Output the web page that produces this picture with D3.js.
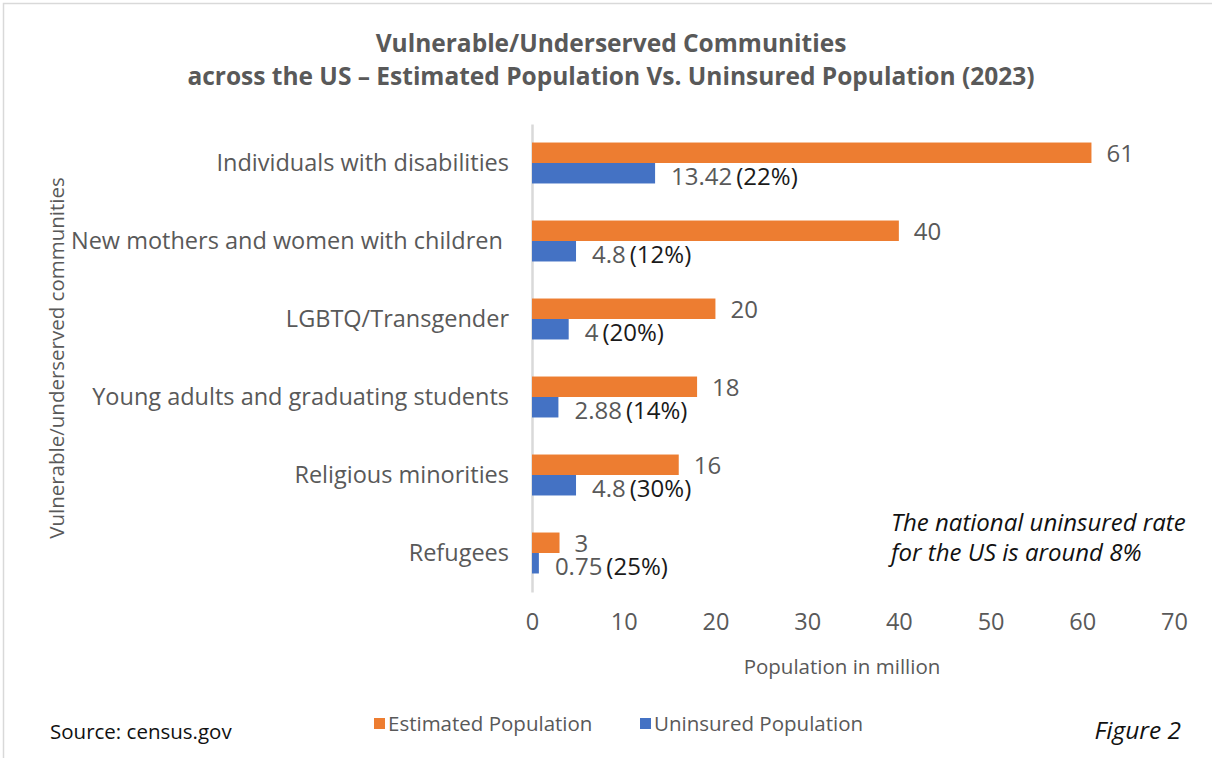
<!DOCTYPE html>
<html>
<head>
<meta charset="utf-8">
<script src="https://cdn.jsdelivr.net/npm/d3@7"></script>
<style>
  html, body { margin: 0; padding: 0; background: #ffffff; }
  svg { display: block; font-family: "Open Sans", "Noto Sans", sans-serif; }
  .cat text { white-space: pre; }
</style>
</head>
<body>
<svg id="chart" width="1212" height="758"></svg>
<script>
// Communities, top to bottom
const categories = [
  "Individuals with disabilities",
  "New mothers and women with children ",
  "LGBTQ/Transgender",
  "Young adults and graduating students",
  "Religious minorities",
  "Refugees"
];
// Population in million
const estimated = [61, 40, 20, 18, 16, 3];
const uninsured = [13.42, 4.8, 4, 2.88, 4.8, 0.75];
// Share of each community that is uninsured
const uninsuredShare = ["22%", "12%", "20%", "14%", "30%", "25%"];
const xTicks = [0, 10, 20, 30, 40, 50, 60, 70];

const seriesNames = ["Estimated Population", "Uninsured Population"];
const colors = ["#ED7D31", "#4472C4"];

const FONT = "'Open Sans', 'Noto Sans', sans-serif";
const svg = d3.select("#chart");
const W = 1212, H = 758;

// frame
svg.append("rect").attr("x", 3.5).attr("y", 3.5).attr("width", W + 10).attr("height", H + 10)
  .attr("fill", "none").attr("stroke", "#d9d9d9").attr("stroke-width", 1.5);

const plot = { left: 532, right: 1174, top: 124, bottom: 592 };

const x = d3.scaleLinear().domain([0, 70]).range([plot.left, plot.right]);
const y = d3.scaleBand().domain(categories).range([plot.top, plot.bottom]).paddingInner(0.475).paddingOuter(0.2375);
const barH = y.bandwidth() / 2;

// title
const title = svg.append("text").attr("text-anchor", "middle").attr("fill", "#595959")
  .attr("font-weight", "bold").attr("font-size", 24.5);
title.append("tspan").attr("x", 611).attr("y", 52).text("Vulnerable/Underserved Communities");
title.append("tspan").attr("x", 611).attr("y", 85).text("across the US \u2013 Estimated Population Vs. Uninsured Population (2023)");

// x axis ticks (no line)
const xAxis = svg.append("g").attr("transform", `translate(0,${plot.bottom})`)
  .call(d3.axisBottom(x).tickValues(xTicks).tickSize(0).tickPadding(21).tickFormat(d3.format("d")));
xAxis.select(".domain").remove();
xAxis.selectAll("text").attr("font-size", 23.5).attr("fill", "#595959").attr("font-family", FONT);

// y axis: vertical line + category labels
const yAxis = svg.append("g").attr("class", "cat").attr("transform", `translate(${plot.left},0)`)
  .call(d3.axisLeft(y).tickSize(0).tickPadding(23));
yAxis.select(".domain").attr("stroke", "#d9d9d9").attr("stroke-width", 2.5);
yAxis.selectAll("text").attr("font-size", 23.5).attr("fill", "#595959").attr("font-family", FONT);

// bars
const rows = categories.map((c, i) => ({ c, est: estimated[i], un: uninsured[i], share: uninsuredShare[i] }));

svg.append("g").selectAll("rect").data(rows).join("rect")
  .attr("x", x(0)).attr("y", d => y(d.c))
  .attr("width", d => x(d.est) - x(0)).attr("height", barH)
  .attr("fill", colors[0]);

svg.append("g").selectAll("rect").data(rows).join("rect")
  .attr("x", x(0)).attr("y", d => y(d.c) + barH)
  .attr("width", d => x(d.un) - x(0)).attr("height", barH)
  .attr("fill", colors[1]);

// value labels
svg.append("g").selectAll("text").data(rows).join("text")
  .attr("x", d => x(d.est) + 15).attr("y", d => y(d.c) + barH / 2)
  .attr("dominant-baseline", "central").attr("font-size", 24).attr("fill", "#595959")
  .text(d => d.est);

const unLabels = svg.append("g").selectAll("text").data(rows).join("text")
  .attr("x", d => x(d.un) + 16).attr("y", d => y(d.c) + barH * 1.5 + 2)
  .attr("dominant-baseline", "central").attr("font-size", 24);
unLabels.append("tspan").attr("fill", "#595959").text(d => d.un);
unLabels.append("tspan").attr("fill", "#1a1a1a").attr("dx", 4).text(d => `(${d.share})`);

// axis titles
svg.append("text").attr("x", 842).attr("y", 674)
  .attr("text-anchor", "middle").attr("font-size", 20.5).attr("fill", "#595959")
  .text("Population in million");

svg.append("text").attr("transform", `translate(64,${(plot.top + plot.bottom) / 2}) rotate(-90)`)
  .attr("text-anchor", "middle").attr("font-size", 20.5).attr("fill", "#595959")
  .text("Vulnerable/underserved communities");

// note
const note = svg.append("text").attr("font-size", 24).attr("font-style", "italic").attr("fill", "#111");
note.append("tspan").attr("x", 891).attr("y", 531).text("The national uninsured rate");
note.append("tspan").attr("x", 891).attr("y", 561).text("for the US is around 8%");

// legend
const legend = svg.append("g");
const legendX = [374, 640];
seriesNames.forEach((name, i) => {
  legend.append("rect").attr("x", legendX[i]).attr("y", 718).attr("width", 11).attr("height", 11).attr("fill", colors[i]);
  legend.append("text").attr("x", legendX[i] + 14).attr("y", 731).attr("font-size", 20.5).attr("fill", "#595959").text(name);
});

// source and figure number
svg.append("text").attr("x", 50).attr("y", 739).attr("font-size", 20.5).attr("fill", "#111").text("Source: census.gov");
svg.append("text").attr("x", 1181).attr("y", 739).attr("text-anchor", "end").attr("font-size", 24.5)
  .attr("font-style", "italic").attr("fill", "#111").text("Figure 2");
</script>
</body>
</html>
